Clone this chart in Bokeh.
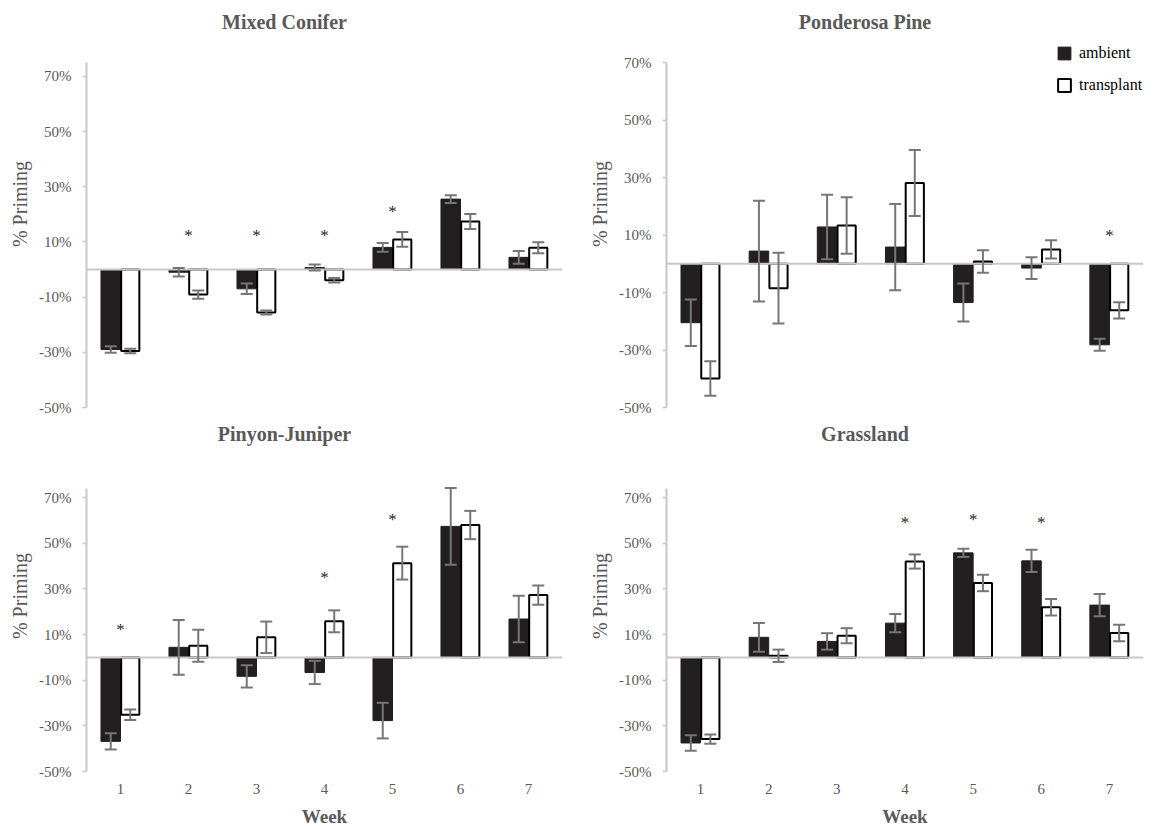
from bokeh.plotting import figure
from bokeh.models import (FactorRange, Range1d, ColumnDataSource, Whisker, TeeHead, Span,
                          FixedTicker, PrintfTickFormatter, Legend, LegendItem)
from bokeh.transform import dodge
from bokeh.layouts import column, row
from bokeh.embed import file_html
from bokeh.resources import INLINE
from bokeh.core.properties import value

# ---------------- data ----------------
weeks = ["1", "2", "3", "4", "5", "6", "7"]
y_ticks = [-50, -30, -10, 10, 30, 50, 70]

mc_title = "Mixed Conifer"
mc_ambient = [-29.0, -1.0, -7.0, 0.7, 8.0, 25.5, 4.4]
mc_ambient_err = [1.2, 1.5, 1.9, 1.1, 1.6, 1.4, 2.3]
mc_transplant = [-29.5, -9.1, -15.6, -3.9, 10.9, 17.4, 7.9]
mc_transplant_err = [0.8, 1.5, 0.7, 0.8, 2.7, 2.7, 2.0]
mc_star_weeks = ["2", "3", "4", "5"]
mc_star_y = [12.3, 12.3, 12.3, 21.0]

pp_title = "Ponderosa Pine"
pp_ambient = [-20.5, 4.4, 12.8, 5.8, -13.5, -1.5, -28.2]
pp_ambient_err = [8.1, 17.5, 11.2, 15.0, 6.6, 3.8, 2.1]
pp_transplant = [-39.9, -8.5, 13.3, 28.1, 0.8, 5.0, -16.2]
pp_transplant_err = [6.0, 12.3, 9.8, 11.5, 3.9, 3.2, 2.8]
pp_star_weeks = ["7"]
pp_star_y = [9.8]

pj_title = "Pinyon-Juniper"
pj_ambient = [-36.8, 4.4, -8.3, -6.6, -27.7, 57.4, 16.8]
pj_ambient_err = [3.6, 12.0, 4.9, 5.1, 7.8, 16.8, 10.2]
pj_transplant = [-25.1, 5.1, 8.8, 15.8, 41.3, 58.0, 27.3]
pj_transplant_err = [2.3, 7.0, 6.9, 4.8, 7.2, 6.2, 4.2]
pj_star_weeks = ["1", "4", "5"]
pj_star_y = [12.1, 35.0, 60.3]

gr_title = "Grassland"
gr_ambient = [-37.5, 8.8, 7.0, 15.0, 45.8, 42.3, 22.9]
gr_ambient_err = [3.4, 6.3, 3.6, 4.0, 1.8, 4.9, 4.9]
gr_transplant = [-35.8, 0.7, 9.5, 42.0, 32.6, 22.0, 10.7]
gr_transplant_err = [2.0, 2.7, 3.3, 3.1, 3.6, 3.6, 3.6]
gr_star_weeks = ["4", "5", "6"]
gr_star_y = [59.1, 60.6, 59.1]

series_names = ["ambient", "transplant"]
x_label = "Week"
y_label = "% Priming"

# ---------------- style ----------------
FONT = "Liberation Serif"
TXT = "#595959"
AXC = "#c8c8c8"
ERRC = "#767676"
BARC = "#231f20"
BW = 0.287
OFF = 0.1435
Y_MIN = -50


def make_panel(title, amb, amb_err, tra, tra_err, star_weeks, star_y,
               axis_top, axis_px, fig_w, fig_h, left, frame_w, bottom, title_px,
               show_x, legend_loc=None):
    frame_h = fig_h - bottom
    ppu = axis_px / (axis_top - Y_MIN)          # pixels per % unit
    y_end = Y_MIN + frame_h / ppu
    p = figure(x_range=FactorRange(factors=weeks), y_range=Range1d(Y_MIN, y_end),
               width=fig_w, height=fig_h,
               min_border_left=left, min_border_right=fig_w - left - frame_w,
               min_border_top=0, min_border_bottom=bottom,
               output_backend="svg", toolbar_location=None, tools="")
    p.outline_line_color = None
    p.xgrid.visible = False
    p.ygrid.visible = False
    p.x_range.range_padding = 0

    src = ColumnDataSource(dict(
        week=weeks, amb=amb, tra=tra,
        amb_lo=[v - e for v, e in zip(amb, amb_err)],
        amb_hi=[v + e for v, e in zip(amb, amb_err)],
        tra_lo=[v - e for v, e in zip(tra, tra_err)],
        tra_hi=[v + e for v, e in zip(tra, tra_err)],
    ))
    r_amb = p.vbar(x=dodge("week", -OFF, range=p.x_range), top="amb", bottom=0, width=BW,
                   source=src, fill_color=BARC, line_color=BARC, line_width=1)
    r_tra = p.vbar(x=dodge("week", OFF, range=p.x_range), top="tra", bottom=0, width=BW - 0.02,
                   source=src, fill_color="white", line_color="black", line_width=2)

    p.add_layout(Span(location=0, dimension="width", line_color=AXC, line_width=2))

    for key, off in (("amb", -OFF), ("tra", OFF)):
        w = Whisker(base=dodge("week", off, range=p.x_range), lower=f"{key}_lo", upper=f"{key}_hi",
                    source=src, line_color=ERRC, line_width=2, level="annotation",
                    upper_head=TeeHead(size=12, line_color=ERRC, line_width=2),
                    lower_head=TeeHead(size=12, line_color=ERRC, line_width=2))
        p.add_layout(w)

    ssrc = ColumnDataSource(dict(week=star_weeks, y=star_y))
    p.text(x="week", y="y", text=value("*"), source=ssrc, text_font=value(FONT),
           text_font_size="17px", text_align="center", text_baseline="middle",
           text_color="#262626")

    # panel title, drawn as text above the axis area
    tsrc = ColumnDataSource(dict(x=[weeks[3]], y=[y_end - title_px / ppu], t=[title]))
    p.text(x="x", y="y", text="t", source=tsrc, x_offset=-40,
           text_font=value(FONT), text_font_size="20px", text_font_style="bold",
           text_align="center", text_baseline="middle", text_color=TXT)

    ax = p.yaxis[0]
    ax.bounds = (Y_MIN, axis_top)
    ax.ticker = FixedTicker(ticks=y_ticks, minor_ticks=[])
    ax.formatter = PrintfTickFormatter(format="%d%%")
    ax.axis_line_color = AXC
    ax.axis_line_width = 2
    ax.major_tick_line_color = AXC
    ax.major_tick_line_width = 1.5
    ax.major_tick_out = 4
    ax.major_tick_in = 0
    ax.minor_tick_line_color = None
    ax.major_label_standoff = 11
    ax.major_label_text_font = FONT
    ax.major_label_text_font_size = "15px"
    ax.major_label_text_color = TXT
    ax.axis_label = y_label
    ax.axis_label_text_font = FONT
    ax.axis_label_text_font_size = "20px"
    ax.axis_label_text_font_style = "normal"
    ax.axis_label_text_color = TXT
    ax.axis_label_standoff = 5

    xa = p.xaxis[0]
    if show_x:
        xa.axis_line_color = None
        xa.major_tick_line_color = None
        xa.major_tick_out = 0
        xa.major_tick_in = 0
        xa.major_label_standoff = 12
        xa.major_label_text_font = FONT
        xa.major_label_text_font_size = "15px"
        xa.major_label_text_color = TXT
        xa.axis_label = x_label
        xa.axis_label_text_font = FONT
        xa.axis_label_text_font_size = "19px"
        xa.axis_label_text_font_style = "bold"
        xa.axis_label_text_color = TXT
        xa.axis_label_standoff = 9
    else:
        xa.visible = False

    if legend_loc is not None:
        lg = Legend(items=[LegendItem(label=series_names[0], renderers=[r_amb]),
                           LegendItem(label=series_names[1], renderers=[r_tra])],
                    location=legend_loc, orientation="vertical",
                    border_line_color=None, background_fill_alpha=0,
                    padding=0, margin=0, spacing=14,
                    glyph_width=16, glyph_height=16, label_height=16,
                    label_standoff=7, label_text_font=FONT,
                    label_text_font_size="16px", label_text_color="black")
        p.add_layout(lg)
    return p


p1 = make_panel(mc_title, mc_ambient, mc_ambient_err, mc_transplant, mc_transplant_err,
                mc_star_weeks, mc_star_y, 75, 345, 580, 420, 86, 476, 13, 21.7, False)
p2 = make_panel(pp_title, pp_ambient, pp_ambient_err, pp_transplant, pp_transplant_err,
                pp_star_weeks, pp_star_y, 70, 345, 576, 420, 86, 477, 13, 21.7, False,
                legend_loc=(390, 313))
p3 = make_panel(pj_title, pj_ambient, pj_ambient_err, pj_transplant, pj_transplant_err,
                pj_star_weeks, pj_star_y, 74, 283, 580, 409, 86, 476, 58, 13.3, True)
p4 = make_panel(gr_title, gr_ambient, gr_ambient_err, gr_transplant, gr_transplant_err,
                gr_star_weeks, gr_star_y, 74, 283, 576, 409, 86, 477, 58, 13.3, True)

layout = column(row(p1, p2), row(p3, p4))
open("out.html", "w").write(file_html(layout, INLINE))
